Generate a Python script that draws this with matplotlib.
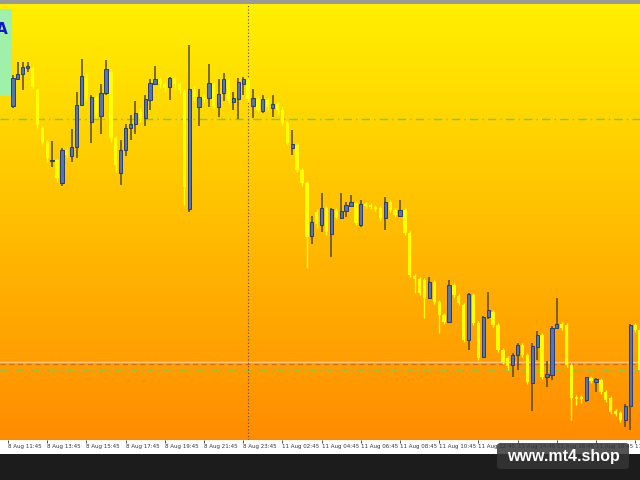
import numpy as np
import matplotlib.pyplot as plt
from matplotlib.patches import Rectangle, FancyBboxPatch

# --- Data (15 min bars, price in chart points) ---
bars = list(range(1, 130))
opens = [394, 421, 426, 432.5, 432, 410, 372, 358, 339, 340,
         317, 350, 344, 353, 395, 422, 378, 403, 384, 407,
         428, 362, 327, 350, 372, 376, 388, 382, 400, 416,
         420, 416, 413, 421, 416, 408, 291, 411, 393, 403,
         402, 416, 393, 407, 420, 398, 401, 416, 420, 394,
         401, 389, 400, 392, 396, 390, 377, 352, 355, 330,
         317, 264, 288, 275, 292, 266, 290, 282, 289, 294,
         297, 275, 296, 295, 293, 292, 282, 298, 290, 284,
         290, 267, 224, 221, 220, 202, 218, 198, 185, 178,
         215, 204, 195, 160, 205, 177, 143, 183, 188, 175,
         150, 142, 135, 145, 155, 145, 117, 153, 165, 123,
         125, 172, 176, 175, 135, 103, 103, 100, 122, 118,
         120, 108, 102, 89, 87, 80, 94, 175, 170]
highs = [425, 438, 438, 438, 434, 412, 374, 360, 359, 342,
         352, 353, 371, 408, 441, 428, 405, 405, 416, 440,
         432, 364, 360, 376, 385, 399, 392, 405, 421, 434,
         422, 418, 423, 424, 418, 411, 455, 414, 411, 406,
         436, 418, 421, 427, 422, 408, 422, 423, 422, 411,
         404, 405, 402, 405, 398, 394, 379, 370, 357, 332,
         319, 284, 291, 307, 294, 292, 292, 307, 298, 305,
         299, 300, 298, 297, 295, 294, 303, 300, 292, 300,
         292, 269, 226, 223, 222, 223, 220, 200, 187, 220,
         217, 206, 197, 207, 207, 179, 184, 208, 190, 177,
         152, 144, 147, 157, 157, 147, 157, 169, 167, 139,
         174, 202, 178, 177, 137, 105, 105, 123, 124, 122,
         122, 110, 104, 91, 89, 96, 176, 177, 172]
lows = [392, 420, 410, 428, 412, 372, 356, 338, 333, 318,
        314, 342, 338, 342, 394, 400, 357, 382, 366, 405,
        358, 328, 315, 344, 360, 366, 378, 374, 390, 415,
        412, 408, 400, 412, 406, 295, 288, 400, 374, 398,
        393, 392, 383, 399, 396, 390, 381, 405, 398, 382,
        388, 387, 390, 383, 386, 375, 355, 345, 328, 314,
        232, 256, 272, 268, 265, 243, 281, 281, 283, 293,
        275, 273, 292, 291, 289, 280, 270, 288, 283, 283,
        265, 223, 207, 205, 182, 201, 196, 167, 176, 177,
        203, 195, 158, 150, 175, 140, 142, 181, 173, 148,
        136, 130, 123, 130, 143, 116, 89, 140, 121, 113,
        120, 172, 170, 133, 80, 95, 97, 98, 117, 108,
        106, 98, 86, 84, 78, 73, 70, 168, 128]
closes = [422, 426, 433, 434, 413, 375, 358, 342, 340.5, 322,
          350, 345, 353, 395, 424, 402, 403, 385, 407, 431,
          362, 335, 350, 372, 376, 387, 382, 401, 417, 421,
          416, 412, 422, 416, 410, 313, 411, 403, 403, 401,
          417, 394, 406, 421, 399, 402, 418, 421, 401, 402,
          390, 401, 393, 396, 390, 377, 357, 356, 330, 317,
          263, 278, 276, 292, 268, 291, 283, 289, 295, 298,
          277, 296, 294, 293, 291, 282, 298, 290, 285, 290,
          267, 225, 221, 207, 202, 218, 198, 185, 178, 215,
          205, 197, 160, 206, 177, 142, 183, 190, 175, 150,
          138, 134, 145, 155, 145, 118, 154, 165, 123, 126,
          172, 176, 172, 135, 102, 101, 101, 123, 119, 121,
          108, 100, 88, 86, 80, 94, 175, 170, 130]

tick_bars = [0, 8, 16, 24, 32, 40, 48, 56, 64, 72, 80, 88, 96, 104, 112, 120, 128]
tick_labels = ['8 Aug 11:45', '8 Aug 13:45', '8 Aug 15:45', '8 Aug 17:45',
               '8 Aug 19:45', '8 Aug 21:45', '8 Aug 23:45', '11 Aug 02:45',
               '11 Aug 04:45', '11 Aug 06:45', '11 Aug 08:45', '11 Aug 10:45',
               '11 Aug 12:45', '11 Aug 14:45', '11 Aug 16:45', '11 Aug 18:45',
               '11 Aug 20:45']

green_levels = [381.5, 130]
pale_level = 138.5
orange_level = 136
period_sep_bar = 49

# --- Style ---
BULL_FILL = '#5574b4'
BULL_EDGE = '#2c3c70'
BULL_WICK = '#564a1c'
BEAR = '#ffff00'
X_MIN, X_MAX = -1.633, 128.98
Y_MIN, Y_MAX = 60, 496

fig = plt.figure(figsize=(6.4, 4.8), dpi=100)
fig.patch.set_facecolor('white')
ax = fig.add_axes([0, 40 / 480, 1, 436 / 480])

# background gradient yellow -> orange
top = np.array([255, 240, 0]) / 255
bottom = np.array([255, 140, 0]) / 255
t = np.linspace(0, 1, 256)[:, None]
grad = (top * (1 - t) + bottom * t).reshape(256, 1, 3)
ax.imshow(grad, extent=[X_MIN, X_MAX, Y_MIN, Y_MAX], aspect='auto', origin='upper', zorder=0)

# level lines
ax.axhline(green_levels[0], color='#7fc832', lw=1, ls=(0, (6, 3, 1, 3)), zorder=1)
ax.axhline(green_levels[1], color='#8cc83a', lw=0.9, ls=(0, (6, 3, 1, 3)), alpha=0.8, zorder=1)
ax.axhline(pale_level, color='#ffc878', lw=1, zorder=1)
ax.axhline(orange_level, color='#e0681a', lw=0.9, ls=(0, (4, 3)), zorder=1)
ax.axvline(period_sep_bar, color='#5a4a2a', lw=0.8, ls=(0, (1, 2)), zorder=1)

# --- Candles ---
x = np.array(bars)
o = np.array(opens)
h = np.array(highs)
l = np.array(lows)
c = np.array(closes)
up = c >= o

ax.vlines(x[~up], l[~up], h[~up], color=BEAR, lw=1, zorder=3)
ax.bar(x[~up], (o - c)[~up], bottom=c[~up], width=0.68, color=BEAR, lw=0, zorder=3)
ax.vlines(x[up], l[up], h[up], color=BULL_WICK, lw=1.1, zorder=4)
ax.bar(x[up], np.maximum((c - o)[up], 0.8), bottom=o[up], width=0.68,
       color=BULL_FILL, edgecolor=BULL_EDGE, lw=0.7, zorder=5)

ax.set_xlim(X_MIN, X_MAX)
ax.set_ylim(Y_MIN, Y_MAX)
ax.set_xticks(tick_bars)
ax.set_xticklabels(tick_labels, fontsize=4, ha='left')
ax.tick_params(axis='x', length=2, width=0.6, pad=1, color='#333333', labelcolor='#333333')
ax.set_yticks([])
for s in ax.spines.values():
    s.set_visible(False)

# info box top-left
ax.add_patch(Rectangle((0, 384 / 480), 12 / 640, 87 / 480, transform=fig.transFigure,
                       facecolor='#9ff0a9', edgecolor='none', zorder=2, clip_on=False))
ax.text(7.5 / 640, 1 - 29 / 480, 'A', transform=fig.transFigure, color='#1515c8',
        fontsize=11, fontweight='bold', ha='right', va='center', zorder=6)

# window frame
fig.add_artist(Rectangle((0, 476 / 480), 1, 4 / 480, transform=fig.transFigure,
                         facecolor='#9a9a9a', edgecolor='none'))
fig.add_artist(Rectangle((0, 0), 1, 26 / 480, transform=fig.transFigure,
                         facecolor='#1c1c1c', edgecolor='none'))

# watermark
fig.add_artist(FancyBboxPatch((497 / 640, 11 / 480), 132 / 640, 26 / 480,
                              boxstyle='round,pad=0,rounding_size=0.006',
                              transform=fig.transFigure, facecolor='#353535',
                              edgecolor='none', alpha=0.85))
fig.text(563 / 640, 1 - 457 / 480, 'www.mt4.shop', color='white', fontsize=11.5,
         fontweight='bold', family='Liberation Sans', ha='center', va='center')

fig.savefig('out.png', dpi=100)
